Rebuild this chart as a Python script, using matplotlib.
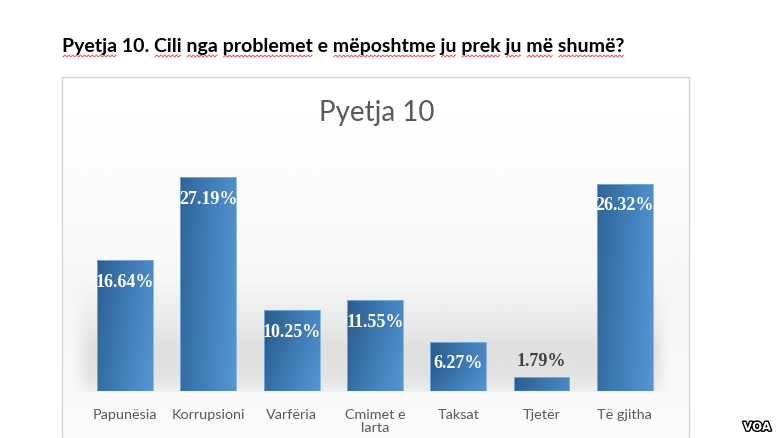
"""
Pyetja 10 bar chart, recreated from a document screenshot.
"""

import numpy as np
import matplotlib
matplotlib.use("Agg")
import matplotlib.pyplot as plt
import matplotlib.patheffects as pe
from matplotlib.colors import LinearSegmentedColormap

##############################################################################
# Data
categories = ["Papunësia", "Korrupsioni", "Varfëria", "Cmimet e\nlarta",
              "Taksat", "Tjetër", "Të gjitha"]
values = [16.64, 27.19, 10.25, 11.55, 6.27, 1.79, 26.32]
value_labels = ["16.64%", "27.19%", "10.25%", "11.55%", "6.27%", "1.79%", "26.32%"]

heading = "Pyetja 10. Cili nga problemet e mëposhtme ju prek ju më shumë?"
underlined = [0, 2, 3, 4, 6, 7, 8, 9, 10, 11]   # words with spell-check marks
chart_title = "Pyetja 10"

W, H, DPI = 780, 439, 100
fig = plt.figure(figsize=(W / DPI, H / DPI), dpi=DPI)
fig.patch.set_facecolor("white")

# background axes in pixel coordinates (y downward)
bg = fig.add_axes([0, 0, 1, 1])
bg.set_xlim(0, W)
bg.set_ylim(H, 0)
bg.axis("off")

# chart box: light vertical gradient plus a grey "floor" band behind the bars
box_l, box_r, box_t, box_b = 62, 689, 78, 439
ys = np.linspace(box_t, box_b, 360)
xs_px = np.linspace(box_l, box_r, 300)
top_shade = np.interp(ys, [78, 200, 300, 439], [1.0, 0.985, 0.965, 0.985])
band = np.interp(ys, [280, 330, 350, 375, 392, 394],
                 [0.0, 0.06, 0.10, 0.09, 0.05, 0.0])
hfade = np.interp(xs_px, [70, 90, 655, 670], [0.0, 1.0, 1.0, 0.0])
img = top_shade[:, None] - band[:, None] * hfade[None, :]
bg.imshow(img, extent=(box_l, box_r, box_b, box_t), cmap="gray",
          vmin=0, vmax=1, aspect="auto", interpolation="bicubic", zorder=0)
bg.add_patch(plt.Rectangle((box_l, box_t), box_r - box_l, box_b - box_t,
                           fill=False, ec="#d6d6d6", lw=1.0, zorder=1))

# heading with red wavy spell-check underlines
hfont = dict(fontsize=14, fontweight="bold", family=["Lato", "DejaVu Sans"])
bg.text(62, 52, heading, color="black", va="baseline", **hfont)

fig.canvas.draw()
renderer = fig.canvas.get_renderer()
words = heading.split(" ")
inv = bg.transData.inverted()
x_start = bg.transData.transform((62, 52))[0]
for i, w in enumerate(words):
    if i not in underlined:
        continue
    prefix = " ".join(words[:i]) + (" " if i else "")
    tmp = bg.text(62, 52, prefix + w, **hfont)
    end = tmp.get_window_extent(renderer).x1
    if prefix:
        tmp.set_text(prefix)
        start = tmp.get_window_extent(renderer).x1
    else:
        start = x_start
    tmp.remove()
    x0 = inv.transform((start, 0))[0]
    x1 = inv.transform((end, 0))[0]
    xs = np.linspace(x0 + 1, x1 - 1, 80)
    bg.plot(xs, 57 + 0.9 * np.sin((xs - x0) * 1.6), color="#f06060",
            lw=0.8, zorder=2)

bg.text(377, 113, chart_title, fontsize=20, family=["Lato", "DejaVu Sans"],
        color="#595959", ha="center", va="center")

# VOA logo
bg.text(757, 428, "VOA", fontsize=8.5, fontweight="bold",
        family=["DejaVu Sans"], color="white", ha="center", va="center",
        path_effects=[pe.withStroke(linewidth=2, foreground="black")])

##############################################################################
# Bars
step = 83.3
left = 125 - step / 2
base_y = 392
ppu = 7.87
ymax = 30
ax = fig.add_axes([left / W, (H - base_y) / H, 7 * step / W, ymax * ppu / H])
ax.set_xlim(-0.5, 6.5)
ax.set_ylim(0, ymax)
ax.patch.set_alpha(0)
for s in ax.spines.values():
    s.set_visible(False)
ax.set_yticks([])

x = np.arange(len(categories))
bars = ax.bar(x, values, width=0.67, color="#4a86c0", zorder=2)

blue = LinearSegmentedColormap.from_list(
    "blue", ["#2b5d8d", "#3f7cb6", "#5596d1"])
gx, gy = np.meshgrid(np.linspace(0, 1, 64), np.linspace(0, 1, 64))
for b in bars:
    x0, y0 = b.get_x(), b.get_y()
    hgt = b.get_height()
    # darker at bottom-left, lighter at top-right (top row = top of bar)
    yfrac = np.clip((ymax * 0.5) * (1 - gy) / max(hgt, 1), 0, 1)
    g = 0.75 * gx + 0.25 * (1 - yfrac)
    im = ax.imshow(g, extent=(x0, x0 + b.get_width(), y0, y0 + hgt),
                   cmap=blue, vmin=0, vmax=1, aspect="auto", zorder=3,
                   interpolation="bicubic", origin="upper")
    im.set_clip_path(b)
    ax.add_patch(plt.Rectangle((x0, y0), b.get_width(), hgt, fill=False,
                               ec="#7fb0de", lw=0.6, zorder=3.5))

for xi, v, lab in zip(x, values, value_labels):
    if v > 4:
        ax.text(xi, v - 21 / ppu, lab, ha="center", va="center", color="white",
                fontsize=13, fontweight="bold", family="Liberation Serif", zorder=4)
    else:
        ax.text(xi, v + 16 / ppu, lab, ha="center", va="center", color="#404040",
                fontsize=13, fontweight="bold", family="Liberation Serif", zorder=4)

ax.set_xticks(x)
ax.set_xticklabels(categories, fontsize=10.4, family=["Lato", "DejaVu Sans"],
                   color="#595959", linespacing=1.15, va="top")
ax.tick_params(axis="x", length=0, pad=12)

fig.savefig("out.png", dpi=DPI)
